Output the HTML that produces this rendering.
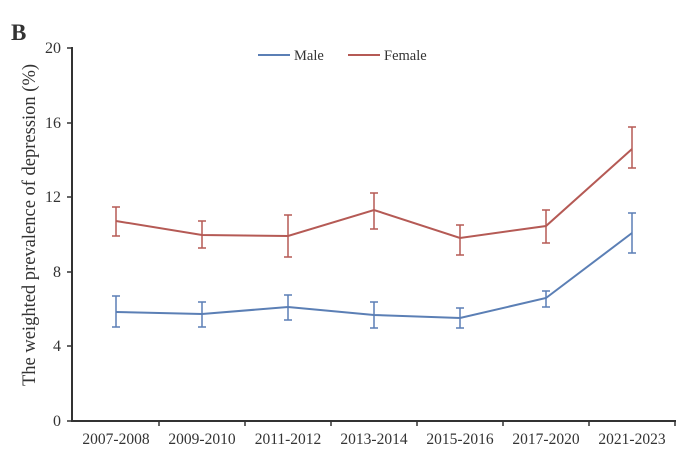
<!DOCTYPE html>
<html><head><meta charset="utf-8"><style>
html,body{margin:0;padding:0;background:#fff;width:694px;height:458px;overflow:hidden}
svg text{font-family:"Liberation Serif",serif;fill:#333}
</style></head><body>
<svg width="694" height="458" viewBox="0 0 694 458" xmlns="http://www.w3.org/2000/svg">
<text x="11" y="40" font-size="23" font-weight="bold" fill="#222">B</text>
<text transform="translate(35,225) rotate(-90)" font-size="18.5" text-anchor="middle">The weighted prevalence of depression (%)</text>
<g stroke="#333" stroke-width="2" fill="none">
<line x1="72" y1="47" x2="72" y2="422"/>
<line x1="71" y1="421" x2="676" y2="421"/>
</g>
<g stroke="#333" stroke-width="1.5">
<line x1="67" y1="48" x2="72" y2="48"/><line x1="67" y1="123" x2="72" y2="123"/>
<line x1="67" y1="197" x2="72" y2="197"/><line x1="67" y1="272" x2="72" y2="272"/>
<line x1="67" y1="346" x2="72" y2="346"/><line x1="67" y1="421" x2="72" y2="421"/>
<line x1="159" y1="421" x2="159" y2="426"/><line x1="245" y1="421" x2="245" y2="426"/>
<line x1="331" y1="421" x2="331" y2="426"/><line x1="417" y1="421" x2="417" y2="426"/>
<line x1="503" y1="421" x2="503" y2="426"/><line x1="589" y1="421" x2="589" y2="426"/>
<line x1="675" y1="421" x2="675" y2="426"/>
</g>
<g font-size="16" text-anchor="end">
<text x="61" y="53">20</text><text x="61" y="128">16</text><text x="61" y="202">12</text>
<text x="61" y="277">8</text><text x="61" y="351">4</text><text x="61" y="426">0</text>
</g>
<g font-size="15.5" text-anchor="middle">
<text x="116" y="444">2007-2008</text><text x="202" y="444">2009-2010</text><text x="288" y="444">2011-2012</text>
<text x="374" y="444">2013-2014</text><text x="460" y="444">2015-2016</text><text x="546" y="444">2017-2020</text>
<text x="632" y="444">2021-2023</text>
<text x="374" y="469" font-size="17">Time</text>
</g>
<g stroke="#5b7fb5" stroke-width="2" fill="none">
<line x1="258" y1="55" x2="290" y2="55"/>
<polyline points="116,312 202,314 288,307 374,315 460,318 546,298 632,233"/>
</g>
<g stroke="#5b7fb5" stroke-width="1.5">
<path d="M116 296V327M112 296H120M112 327H120"/>
<path d="M202 302V327M198 302H206M198 327H206"/>
<path d="M288 295V320M284 295H292M284 320H292"/>
<path d="M374 302V328M370 302H378M370 328H378"/>
<path d="M460 308V328M456 308H464M456 328H464"/>
<path d="M546 291V307M542 291H550M542 307H550"/>
<path d="M632 213V253M628 213H636M628 253H636"/>
</g>
<g stroke="#b55a55" stroke-width="2" fill="none">
<line x1="348" y1="55" x2="380" y2="55"/>
<polyline points="116,221 202,235 288,236 374,210 460,238 546,226 632,149"/>
</g>
<g stroke="#b55a55" stroke-width="1.5">
<path d="M116 207V236M112 207H120M112 236H120"/>
<path d="M202 221V248M198 221H206M198 248H206"/>
<path d="M288 215V257M284 215H292M284 257H292"/>
<path d="M374 193V229M370 193H378M370 229H378"/>
<path d="M460 225V255M456 225H464M456 255H464"/>
<path d="M546 210V243M542 210H550M542 243H550"/>
<path d="M632 127V168M628 127H636M628 168H636"/>
</g>
<g font-size="14.5">
<text x="294" y="60">Male</text><text x="384" y="60">Female</text>
</g>
</svg>
</body></html>
